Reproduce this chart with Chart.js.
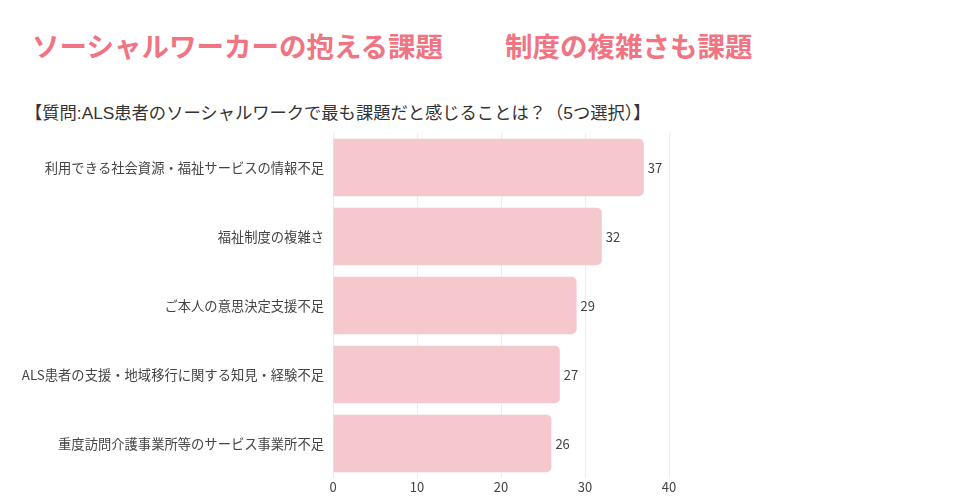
<!DOCTYPE html>
<html>
<head>
<meta charset="utf-8">
<script src="https://cdn.jsdelivr.net/npm/chart.js@4"></script>
<style>
  html, body { margin: 0; padding: 0; background: #fff; }
  #wrap { position: relative; width: 960px; height: 498px; overflow: hidden; }
  .head { position: absolute; top: 26px; font-family: "Noto Sans CJK JP"; font-weight: bold; font-size: 27.5px; line-height: 38px; color: #f07482; white-space: nowrap; }
  #sub { position: absolute; left: 25px; top: 102px; font-family: "Liberation Sans", "Noto Sans CJK JP"; font-size: 17.3px; line-height: 22px; color: #333; white-space: nowrap; }
  canvas { position: absolute; left: 0; top: 0; }
</style>
</head>
<body>
<div id="wrap">
  <div class="head" style="left:32px">ソーシャルワーカーの抱える課題</div>
  <div class="head" style="left:505px">制度の複雑さも課題</div>
  <div id="sub">【質問:ALS患者のソーシャルワークで最も課題だと感じることは？（5つ選択）】</div>
  <canvas id="myChart" width="960" height="498"></canvas>
</div>
<script>
var labels = [
  '利用できる社会資源・福祉サービスの情報不足',
  '福祉制度の複雑さ',
  'ご本人の意思決定支援不足',
  'ALS患者の支援・地域移行に関する知見・経験不足',
  '重度訪問介護事業所等のサービス事業所不足'
]
var counts = [37, 32, 29, 27, 26]
var xTicks = [0, 10, 20, 30, 40]

// draw the value to the right of each bar
var valueLabels = {
  id: 'valueLabels',
  afterDatasetsDraw: function (chart) {
    var ctx = chart.ctx
    var meta = chart.getDatasetMeta(0)
    ctx.save()
    ctx.font = '13px "Noto Sans CJK JP"'
    ctx.fillStyle = '#444'
    ctx.textAlign = 'left'
    ctx.textBaseline = 'middle'
    meta.data.forEach(function (bar, i) {
      ctx.fillText(counts[i], bar.x + 4, bar.y + 1)
    })
    ctx.restore()
  }
}

var ctx = document.getElementById('myChart').getContext('2d')
var myChart = new Chart(ctx, {
  type: 'bar',
  data: {
    labels: labels,
    datasets: [{
      data: counts,
      backgroundColor: '#f4c8cc',
      borderRadius: { topLeft: 0, bottomLeft: 0, topRight: 5, bottomRight: 5 },
      borderSkipped: 'start',
      categoryPercentage: 1,
      barPercentage: 0.83
    }]
  },
  options: {
    indexAxis: 'y',
    responsive: false,
    animation: false,
    layout: { padding: { top: 133, right: 291, bottom: 0, left: 0 } },
    plugins: {
      legend: { display: false },
      tooltip: { enabled: false }
    },
    scales: {
      x: {
        min: 0,
        max: 40,
        afterBuildTicks: function (axis) {
          axis.ticks = xTicks.map(function (v) { return { value: v } })
        },
        afterFit: function (axis) { axis.height = 20 },
        grid: { color: '#ededed', drawTicks: false },
        border: { display: false },
        ticks: { color: '#444', padding: 1, font: { family: 'Noto Sans CJK JP', size: 13 } }
      },
      y: {
        grid: { display: false, drawTicks: false },
        border: { display: false },
        afterFit: function (axis) { axis.width = 333 },
        ticks: { color: '#444', padding: 9, font: { family: 'Noto Sans CJK JP', size: 13.3 } }
      }
    }
  },
  plugins: [valueLabels]
})
</script>
</body>
</html>
